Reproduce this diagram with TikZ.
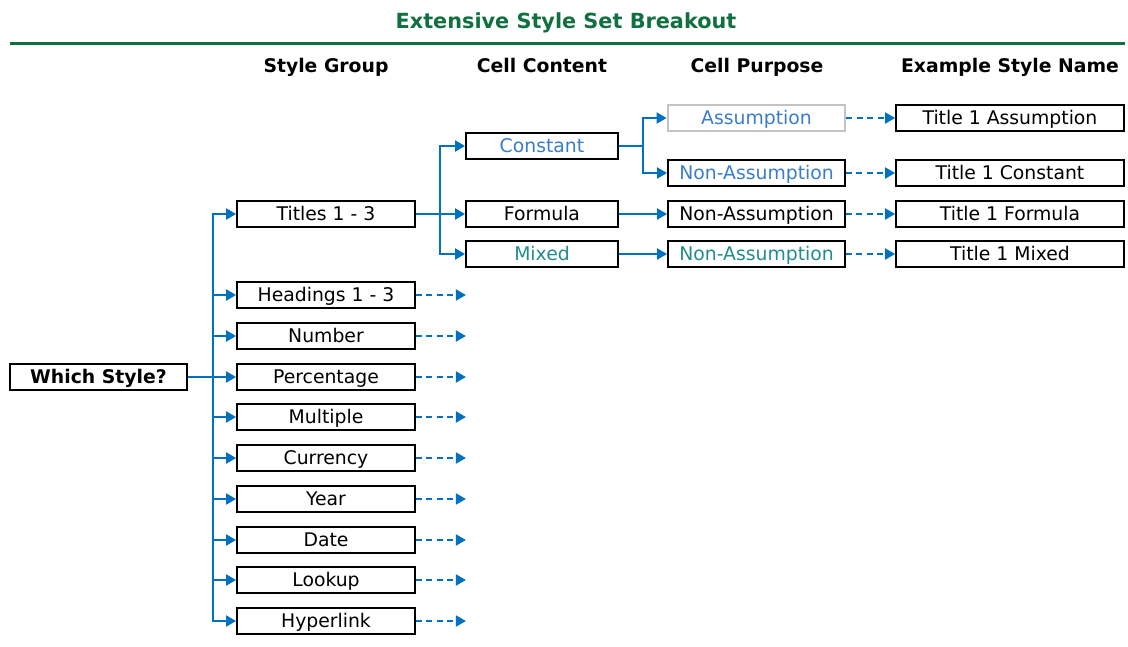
\documentclass[tikz,border=0pt]{standalone}
\usepackage{fontspec}
\setmainfont{DejaVu Sans}
\usetikzlibrary{arrows.meta, positioning, calc}
\definecolor{titlegreen}{RGB}{16,112,64}
\definecolor{linkblue}{RGB}{0,112,192}
\definecolor{constblue}{RGB}{58,125,205}
\definecolor{mixteal}{RGB}{35,140,140}
\definecolor{assumegray}{RGB}{195,195,195}

\begin{document}
\begin{tikzpicture}[x=1pt, y=-1pt,
        every node/.style={font=\fontsize{18.8}{20}\selectfont},
        box/.style={draw, line width=1.8pt, fill=white, inner sep=0pt,
                    minimum width=#1, minimum height=26pt,
                    text height=14pt, text depth=2pt},
        box/.default=178pt,
        hdr/.style={font=\fontsize{18.8}{20}\selectfont\bfseries,
                    text height=14pt, text depth=2pt},
        ln/.style={line width=1.9pt, linkblue},
        arr/.style={ln, -{Triangle[length=10pt, width=11pt]}},
        darr/.style={arr, dash pattern=on 6pt off 4.5pt}
      ]
        \useasboundingbox (0,0) rectangle (1128,646);
        % title and rule
        \node[font=\fontsize{20.8}{22}\selectfont\bfseries, text=titlegreen,
              text height=15pt, text depth=2pt] (title) at (566,22) {Extensive Style Set Breakout};
        \draw[line width=3pt, titlegreen] (10,43) -- (1125,43);
        % column headers
        \node[hdr] (hgroup)   at (326,66)  {Style Group};
        \node[hdr] (hcontent) at (542,66)  {Cell Content};
        \node[hdr] (hpurpose) at (757,66)  {Cell Purpose};
        \node[hdr] (hexample) at (1010,66) {Example Style Name};
        % root
        \node[box=177pt, font=\fontsize{18.8}{20}\selectfont\bfseries] (which) at (98.5,377) {Which Style?};
        % style groups
        \node[box] (titles)     at (326,214) {Titles 1 - 3};
        \node[box] (headings)   at (326,295) {Headings 1 - 3};
        \node[box] (number)     at (326,336) {Number};
        \node[box] (percentage) at (326,377) {Percentage};
        \node[box] (multiple)   at (326,417) {Multiple};
        \node[box] (currency)   at (326,458) {Currency};
        \node[box] (year)       at (326,499) {Year};
        \node[box] (date)       at (326,540) {Date};
        \node[box] (lookup)     at (326,580) {Lookup};
        \node[box] (hyperlink)  at (326,621) {Hyperlink};
        % cell content
        \node[box=152pt, text=constblue] (constant) at (542,146) {Constant};
        \node[box=152pt]                 (formula)  at (542,214) {Formula};
        \node[box=152pt, text=mixteal]   (mixed)    at (542,254) {Mixed};
        % cell purpose
        \node[box=177pt, draw=assumegray, line width=2.8pt, text=constblue] (assume) at (756.5,118) {Assumption};
        \node[box=177pt, text=constblue] (nonconst) at (756.5,173) {Non-Assumption};
        \node[box=177pt]                 (nonform)  at (756.5,214) {Non-Assumption};
        \node[box=177pt, text=mixteal]   (nonmix)   at (756.5,254) {Non-Assumption};
        % example style names
        \node[box=228pt] (exassume) at (1010,118) {Title 1 Assumption};
        \node[box=228pt] (exconst)  at (1010,173) {Title 1 Constant};
        \node[box=228pt] (exform)   at (1010,214) {Title 1 Formula};
        \node[box=228pt] (exmix)    at (1010,254) {Title 1 Mixed};
        % trunk from the root
        \coordinate (trunk) at (213,377);
        \draw[ln] (which.east) -- (trunk);
        \foreach \g in {titles,headings,number,percentage,multiple,currency,year,date,lookup,hyperlink}
          \draw[arr] (trunk) |- (\g.west);
        \foreach \g in {headings,number,percentage,multiple,currency,year,date,lookup,hyperlink}
          \draw[darr] (\g.east) -- ++(50,0) coordinate (\g-tip);
        % titles branch
        \coordinate (cbranch) at (440,214);
        \draw[ln] (titles.east) -- (cbranch);
        \foreach \c in {constant,formula,mixed}
          \draw[arr] (cbranch) |- (\c.west);
        \coordinate (pbranch) at (643,146);
        \draw[ln] (constant.east) -- (pbranch);
        \draw[arr] (pbranch) |- (assume.west);
        \draw[arr] (pbranch) |- (nonconst.west);
        \draw[arr] (formula) -- (nonform);
        \draw[arr] (mixed) -- (nonmix);
        % to the example names
        \draw[darr] (assume) -- (exassume);
        \draw[darr] (nonconst) -- (exconst);
        \draw[darr] (nonform) -- (exform);
        \draw[darr] (nonmix) -- (exmix);
      \end{tikzpicture}
\end{document}
